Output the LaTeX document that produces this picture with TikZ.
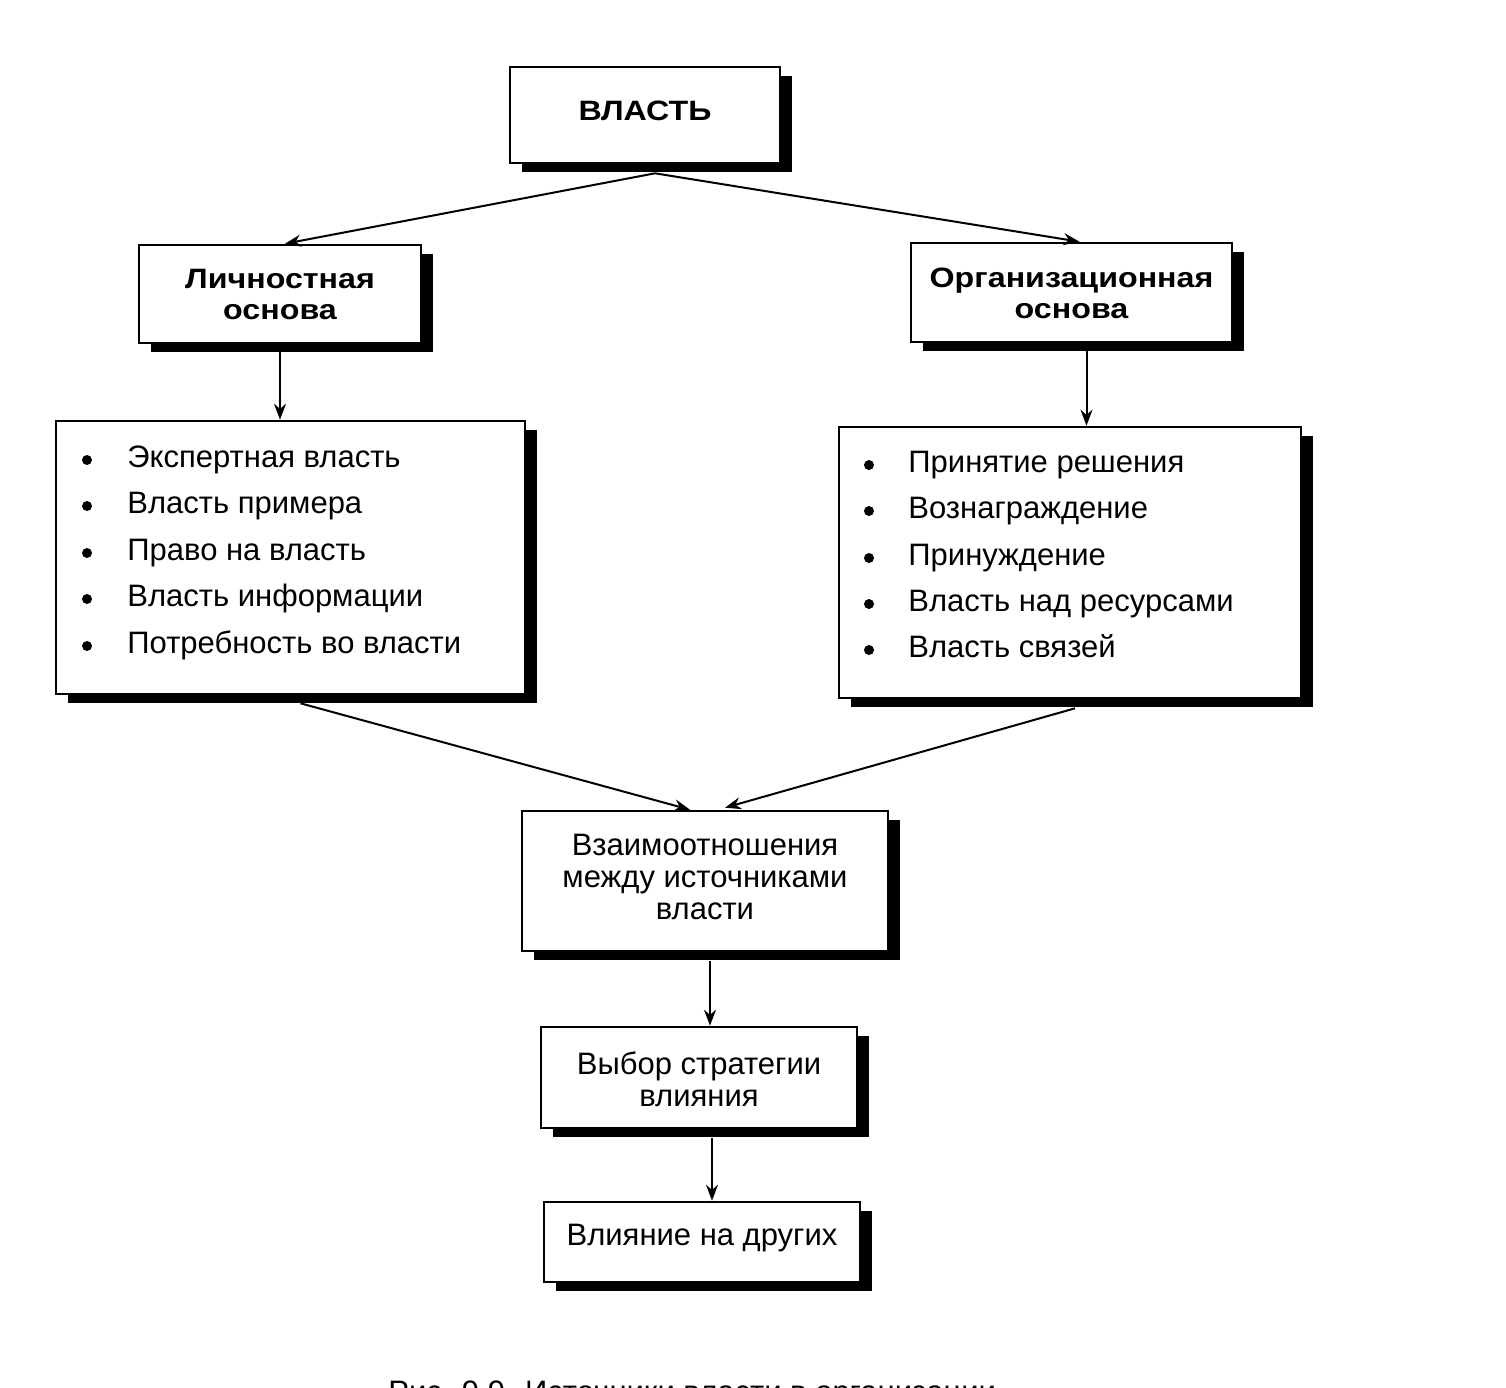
\documentclass[tikz,border=0pt]{standalone}
\usepackage{fontspec}
\setmainfont{Liberation Sans}
\newfontfamily\widebold[FakeStretch=1.15]{Liberation Sans Bold}
\usetikzlibrary{arrows.meta,shadows,calc}
\begin{document}
\begin{tikzpicture}[x=0.5pt,y=-0.5pt,
  box/.style={draw,line width=1.3pt,fill=white,rectangle,inner sep=0pt,
    drop shadow={shadow xshift=6pt,shadow yshift=-4.5pt,opacity=1,fill=black}},
  txt/.style={align=center,font=\fontsize{15.5}{16}\selectfont,inner sep=0pt},
  head/.style={align=center,font=\widebold\fontsize{14}{15.5}\selectfont,inner sep=0pt},
  item/.style={anchor=west,inner sep=0pt,font=\fontsize{15.5}{16}\selectfont,text height=0.7em,text depth=0.2em},
  dot/.style={circle,fill=black,inner sep=0pt,minimum size=5pt},
  arr/.style={-{Stealth[length=8pt,width=6pt]},line width=1pt}]
\useasboundingbox (0,0) rectangle (1506,1388);
\fill[white] (0,0) rectangle (1506,1388);
% boxes
\node[box,minimum width=135pt,minimum height=48pt] (vlast) at (645,115) {};
\node[box,minimum width=141pt,minimum height=49pt] (lich) at (280,294) {};
\node[box,minimum width=160.5pt,minimum height=49.5pt] (org) at (1071.5,292.5) {};
\node[box,minimum width=234.5pt,minimum height=136.5pt] (llist) at (290.5,557.5) {};
\node[box,minimum width=231pt,minimum height=135.5pt] (rlist) at (1070,562.5) {};
\node[box,minimum width=183pt,minimum height=70pt] (vz) at (705,881) {};
\node[box,minimum width=158pt,minimum height=50.5pt] (vyb) at (699,1077.5) {};
\node[box,minimum width=158pt,minimum height=40pt] (vli) at (702,1242) {};
% texts
\node[head] (tvlast) at (645,111) {ВЛАСТЬ};
\node[head] (tlich) at (280,294) {Личностная\\основа};
\node[head] (torg) at (1071.5,293) {Организационная\\основа};
\node[txt] (tvz) at (705,877) {Взаимоотношения\\между источниками\\власти};
\node[txt] (tvyb) at (699,1079) {Выбор стратегии\\влияния};
\node[txt] (tvli) at (702,1238) {Влияние на других};
% left list
\foreach \y/\t [count=\i] in {457/Экспертная власть,503/Власть примера,550/Право на власть,596/Власть информации,643/Потребность во власти}{
  \node[dot] (ld\i) at (87,\y+3) {};
  \node[item] (li\i) at (127,\y+5) {\t};
}
% right list
\foreach \y/\t [count=\i] in {462/Принятие решения,508/Вознаграждение,555/Принуждение,601/Власть над ресурсами,647/Власть связей}{
  \node[dot] (rd\i) at (869,\y+3) {};
  \node[item] (ri\i) at (908,\y+5) {\t};
}
% caption (cut off at bottom edge, as in the reference)
\node[anchor=base west,inner sep=0pt,font=\fontsize{15.5}{16}\selectfont] (cap) at (388,1402) {Рис. 9.9. Источники власти в организации};
% connector end points
\coordinate (s0) at ($(vlast.south)+(10,9)$);
\coordinate (s1) at ($(lich.south)+(0,8)$);
\coordinate (e1) at (s1 |- llist.north);
\coordinate (s2) at ($(org.south)+(15,8)$);
\coordinate (e2) at (s2 |- rlist.north);
\coordinate (s3) at ($(vz.south)+(5,9)$);
\coordinate (e3) at (s3 |- vyb.north);
\coordinate (s4) at ($(vyb.south)+(13,9)$);
\coordinate (e4) at (s4 |- vli.north);
% arrows
\draw[arr] (s0) -- ($(lich.north)+(5,0)$);
\draw[arr] (s0) -- ($(org.north)+(8,0)$);
\draw[arr] (s1) -- (e1);
\draw[arr] (s2) -- (e2);
\draw[arr] ($(llist.south)+(10,8)$) -- ($(vz.north)+(-15,0)$);
\draw[arr] ($(rlist.south)+(5,9)$) -- ($(vz.north)+(20,-2)$);
\draw[arr] (s3) -- (e3);
\draw[arr] (s4) -- (e4);
\end{tikzpicture}
\end{document}
